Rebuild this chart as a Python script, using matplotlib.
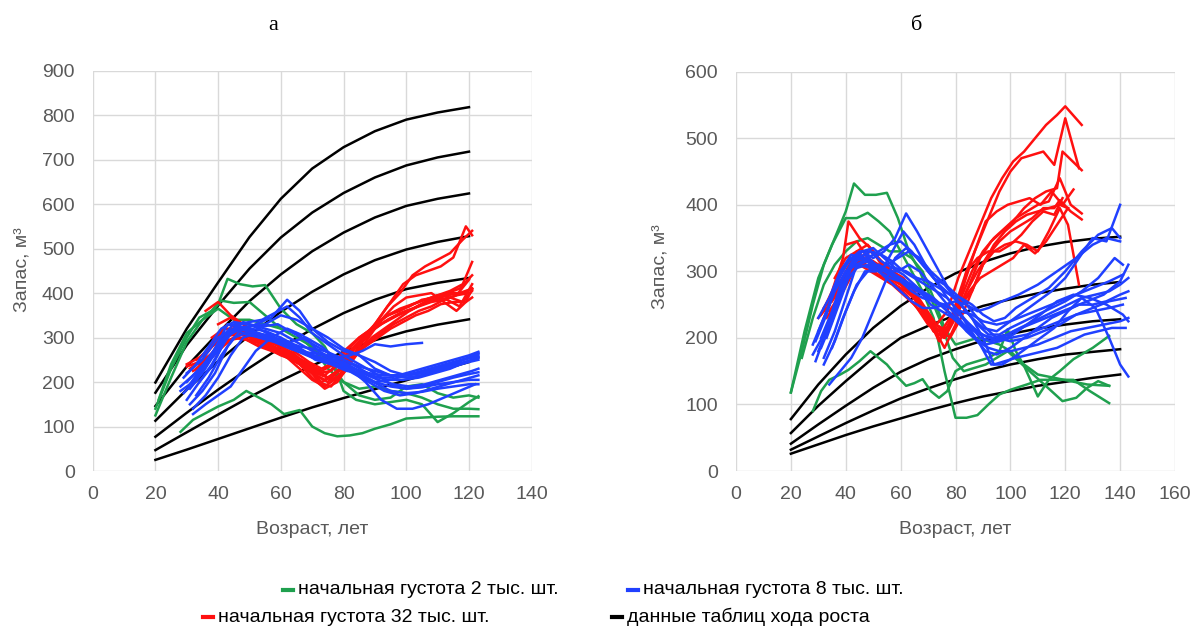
import numpy as np
import matplotlib
matplotlib.use("Agg")
import matplotlib.pyplot as plt
from matplotlib.lines import Line2D

plt.rcParams['font.family'] = ['Liberation Sans', 'DejaVu Sans']

# ---------------- Panel a data ----------------
A_TABLE_AGES = [20, 30, 40, 50, 60, 70, 80, 90, 100, 110, 120]
A_TABLE_VOLS = [
    [199, 320, 424, 526, 612, 680, 728, 764, 790, 806, 818],
    [176, 283, 372, 455, 525, 581, 625, 660, 687, 705, 718],
    [146, 235, 310, 382, 442, 494, 536, 570, 596, 612, 624],
    [113, 183, 247, 305, 358, 403, 442, 474, 498, 515, 528],
    [77, 131, 183, 232, 278, 319, 355, 385, 409, 423, 434],
    [47, 87, 127, 166, 203, 237, 268, 294, 314, 329, 341],
    [25, 48, 72, 96, 120, 143, 164, 184, 204, 225, 245],
]

A_GREEN_AGES = [
    [20, 25, 30, 35, 40, 43, 47, 51, 55, 60, 65, 70, 74, 77, 80, 84, 90, 95, 100, 105, 110, 115, 120, 123],
    [20, 25, 30, 34, 38, 41, 45, 50, 55, 60, 65, 70, 75, 80, 85, 90, 95, 100, 105, 110, 115, 120, 123],
    [28, 32, 36, 40, 45, 49, 53, 57, 61, 66, 70, 74, 78, 82, 86, 90, 95, 100, 105, 110, 115, 120, 123],
    [21, 25, 30, 35, 40, 45, 50, 55, 60, 65, 70, 75, 80, 85, 90, 95, 100, 105, 110, 115, 120, 123],
]
A_GREEN_VOLS = [
    [125, 210, 290, 340, 375, 432, 420, 415, 418, 365, 330, 310, 280, 240, 180, 160, 150, 155, 160, 150, 110, 130, 155, 168],
    [140, 230, 300, 345, 360, 383, 378, 380, 350, 320, 300, 280, 230, 200, 185, 190, 180, 175, 165, 150, 140, 140, 139],
    [88, 115, 130, 145, 160, 180, 165, 150, 128, 137, 100, 85, 78, 80, 85, 95, 105, 118, 120, 122, 123, 123, 123],
    [160, 240, 310, 340, 365, 340, 340, 330, 320, 310, 275, 250, 200, 170, 160, 165, 190, 195, 175, 165, 170, 165],
]

A_BLUE_AGES = [
    [29, 33, 37, 41, 45, 50, 55, 60, 65, 70, 75, 80, 85, 90, 95, 100, 105, 110, 115, 120, 123],
    [30, 34, 38, 42, 46, 50, 55, 60, 65, 70, 75, 80, 85, 90, 95, 100, 105, 110, 115, 120, 123],
    [31, 35, 39, 43, 47, 52, 57, 62, 66, 70, 75, 80, 85, 90, 95, 100, 105, 110, 115, 120, 123],
    [28, 32, 36, 40, 44, 48, 53, 58, 63, 68, 73, 78, 83, 88, 93, 98, 103, 108, 113, 118, 123],
    [32, 36, 40, 44, 48, 52, 57, 62, 67, 72, 77, 82, 87, 92, 97, 102, 107, 112, 117, 122],
    [30, 34, 38, 42, 46, 50, 54, 58, 62, 66, 70, 74, 78, 82, 86, 90, 95, 100, 105],
    [31, 35, 39, 43, 47, 51, 56, 61, 66, 71, 76, 81, 86, 91, 96, 101, 106, 111, 116, 121, 123],
    [29, 33, 37, 41, 45, 49, 54, 59, 64, 69, 74, 79, 84, 89, 94, 99, 104, 109, 114, 119, 123],
    [33, 37, 41, 45, 49, 53, 58, 63, 68, 73, 78, 83, 88, 93, 98, 103, 108, 113, 118, 123],
    [30, 35, 40, 45, 50, 55, 60, 65, 70, 75, 80, 85, 90, 95, 100, 105, 110, 115, 120, 123],
    [32, 36, 40, 44, 48, 52, 56, 60, 65, 70, 75, 80, 85, 90, 95, 100, 105, 110, 115, 120, 123],
    [28, 32, 36, 40, 45, 50, 55, 60, 65, 70, 75, 80, 85, 90, 95, 100, 105, 110, 115, 120, 123],
    [34, 38, 42, 46, 50, 54, 58, 62, 66, 70, 75, 80, 85, 90, 95, 100, 105, 110, 115, 120, 123],
    [31, 35, 39, 43, 47, 51, 55, 60, 65, 70, 75, 80, 85, 90, 95, 100, 105, 110, 115, 120, 123],
]
A_BLUE_VOLS = [
    [175, 205, 250, 300, 330, 330, 320, 310, 290, 270, 255, 240, 215, 200, 205, 215, 225, 235, 245, 255, 265],
    [160, 200, 235, 290, 325, 320, 315, 300, 280, 260, 250, 245, 225, 210, 210, 220, 230, 240, 250, 260, 268],
    [150, 180, 220, 280, 315, 330, 345, 385, 360, 320, 290, 270, 260, 230, 215, 210, 215, 225, 235, 245, 250],
    [190, 215, 240, 270, 310, 335, 320, 300, 290, 300, 280, 250, 230, 220, 215, 215, 220, 230, 240, 250, 258],
    [128, 150, 170, 190, 230, 270, 300, 320, 305, 270, 250, 230, 200, 160, 140, 140, 150, 165, 180, 195],
    [200, 230, 260, 300, 315, 305, 300, 295, 290, 280, 275, 270, 255, 260, 270, 285, 280, 285, 288],
    [185, 220, 265, 310, 320, 310, 300, 290, 275, 250, 240, 225, 220, 205, 195, 190, 195, 205, 215, 225, 230],
    [210, 240, 280, 320, 335, 330, 325, 330, 310, 290, 270, 255, 235, 215, 205, 205, 210, 220, 230, 245, 255],
    [170, 210, 260, 300, 310, 300, 290, 275, 265, 255, 240, 220, 200, 180, 170, 175, 185, 195, 205, 215],
    [220, 250, 300, 320, 325, 330, 350, 340, 320, 300, 275, 260, 245, 225, 215, 220, 230, 240, 255, 262],
    [140, 170, 210, 260, 300, 310, 305, 290, 270, 255, 245, 235, 220, 200, 190, 185, 190, 200, 210, 218, 222],
    [180, 200, 245, 285, 320, 315, 300, 285, 270, 265, 260, 250, 235, 225, 215, 215, 220, 228, 238, 248, 255],
    [200, 240, 290, 330, 335, 340, 355, 370, 345, 310, 285, 260, 240, 220, 195, 185, 188, 195, 200, 205, 205],
    [195, 235, 275, 330, 325, 315, 305, 290, 275, 260, 245, 232, 215, 198, 180, 175, 178, 185, 190, 195, 195],
]

A_RED_AGES = [
    [30, 34, 38, 42, 46, 50, 54, 58, 62, 66, 70, 74, 78, 82, 86, 90, 94, 98, 102, 106, 110, 114, 118, 121],
    [31, 35, 39, 43, 47, 51, 55, 59, 63, 67, 71, 75, 79, 83, 87, 91, 95, 99, 103, 107, 111, 115, 119, 121],
    [33, 37, 41, 45, 49, 53, 57, 61, 65, 69, 73, 77, 81, 85, 89, 93, 97, 101, 105, 109, 113, 117, 121],
    [36, 40, 44, 48, 52, 56, 60, 64, 68, 72, 76, 80, 84, 88, 92, 96, 100, 104, 108, 112, 116, 120],
    [34, 38, 42, 46, 50, 54, 58, 62, 66, 70, 74, 78, 82, 86, 90, 94, 98, 102, 106, 110, 114, 118, 121],
    [32, 36, 40, 44, 48, 52, 56, 60, 64, 68, 72, 76, 80, 84, 88, 92, 96, 100, 104, 108, 112, 116, 120],
    [35, 39, 43, 47, 51, 55, 59, 63, 67, 71, 75, 79, 83, 87, 91, 95, 99, 103, 107, 111, 115, 119, 121],
    [38, 42, 46, 50, 54, 58, 62, 66, 70, 74, 78, 82, 86, 90, 94, 98, 102, 106, 110, 114, 118, 121],
    [40, 44, 48, 52, 56, 60, 64, 68, 72, 76, 80, 84, 88, 92, 96, 100, 104, 108, 112, 116, 119, 121],
    [33, 37, 41, 45, 49, 53, 57, 61, 65, 69, 73, 77, 81, 85, 89, 93, 97, 101, 105, 109, 113, 117, 121],
    [45, 49, 53, 57, 61, 65, 69, 73, 77, 81, 85, 89, 93, 97, 101, 105, 109, 113, 117, 121],
    [30, 34, 38, 42, 46, 50, 54, 58, 62, 66, 70, 74, 78, 82, 86, 90, 94, 98, 102, 106, 110, 114, 118, 121],
]
A_RED_VOLS = [
    [235, 245, 262, 300, 310, 300, 285, 270, 255, 230, 205, 190, 210, 250, 290, 330, 370, 400, 440, 460, 475, 490, 520, 540],
    [230, 250, 300, 330, 320, 305, 290, 275, 255, 240, 215, 200, 230, 270, 300, 340, 380, 420, 440, 450, 460, 480, 550, 530],
    [250, 270, 310, 305, 295, 280, 270, 260, 245, 225, 200, 215, 240, 270, 300, 320, 340, 360, 375, 385, 395, 400, 410],
    [360, 380, 350, 330, 310, 295, 280, 265, 240, 200, 190, 225, 260, 290, 310, 330, 345, 360, 370, 385, 395, 430],
    [240, 265, 290, 300, 295, 285, 270, 255, 240, 210, 185, 200, 240, 290, 320, 340, 355, 365, 380, 395, 405, 420, 470],
    [225, 240, 270, 295, 300, 285, 275, 260, 250, 235, 220, 225, 250, 280, 310, 330, 345, 360, 370, 380, 385, 395, 400],
    [260, 285, 310, 315, 300, 290, 275, 260, 240, 220, 210, 230, 260, 280, 300, 320, 335, 350, 360, 375, 380, 380, 390],
    [300, 320, 320, 310, 300, 285, 270, 250, 230, 215, 240, 270, 300, 330, 350, 365, 375, 385, 395, 400, 400, 410],
    [330, 345, 330, 310, 290, 280, 260, 245, 225, 205, 220, 260, 300, 340, 370, 390, 395, 400, 380, 360, 380, 410],
    [230, 255, 285, 300, 295, 290, 280, 270, 255, 240, 225, 240, 270, 300, 320, 345, 360, 370, 385, 390, 385, 370, 420],
    [320, 315, 305, 295, 285, 265, 245, 230, 245, 275, 300, 320, 335, 350, 360, 375, 385, 400, 410, 440],
    [240, 255, 280, 320, 315, 305, 290, 275, 260, 240, 220, 205, 225, 265, 295, 325, 350, 360, 375, 385, 395, 390, 380, 405],
]

# ---------------- Panel b data ----------------
B_TABLE_AGES = [20, 30, 40, 50, 60, 70, 80, 90, 100, 110, 120, 130, 140]
B_TABLE_VOLS = [
    [78, 130, 175, 215, 248, 275, 297, 314, 327, 337, 344, 349, 352],
    [57, 98, 135, 170, 200, 218, 234, 248, 258, 267, 274, 280, 284],
    [41, 70, 98, 125, 149, 168, 183, 196, 206, 214, 220, 225, 228],
    [32, 52, 72, 91, 109, 124, 138, 150, 160, 168, 175, 179, 183],
    [26, 40, 54, 67, 79, 91, 102, 112, 120, 128, 134, 140, 145],
]

B_GREEN_AGES = [
    [20, 24, 28, 32, 36, 40, 43, 47, 51, 55, 59, 63, 67, 71, 75, 79, 83, 87, 91, 95, 99, 103, 107, 111, 115, 119, 124, 128, 132, 136],
    [20, 25, 30, 35, 40, 44, 48, 52, 56, 60, 64, 68, 72, 76, 80, 84, 88, 92, 96, 100, 106, 111, 117, 123, 129, 136],
    [28, 31, 34, 38, 41, 45, 49, 52, 55, 58, 62, 65, 68, 71, 74, 77, 80, 84, 88, 92, 96, 99, 102, 105, 110, 114, 118, 123, 130, 136],
    [24, 28, 32, 36, 40, 44, 48, 52, 56, 60, 64, 68, 72, 76, 80, 84, 88, 92, 96, 100, 105, 110, 116, 122, 128, 136],
]
B_GREEN_VOLS = [
    [118, 180, 250, 310, 350, 390, 432, 415, 415, 418, 380, 330, 300, 260, 220, 170, 150, 155, 160, 170, 180, 165, 150, 135, 120, 105, 110, 125, 135, 128],
    [118, 210, 290, 340, 380, 380, 388, 375, 360, 330, 300, 270, 230, 150, 80, 80, 84, 100, 115, 122, 130, 137, 137, 137, 120, 102],
    [90, 120, 137, 145, 152, 165, 180, 170, 160, 145, 128, 132, 138, 120, 110, 120, 150, 160, 165, 170, 180, 213, 180, 158, 112, 137, 150, 168, 185, 203],
    [170, 230, 280, 310, 330, 345, 350, 340, 330, 330, 320, 300, 260, 215, 190, 195, 200, 195, 190, 180, 160, 145, 140, 135, 130, 128],
]

B_BLUE_AGES = [
    [29, 33, 37, 41, 45, 49, 53, 57, 61, 65, 69, 73, 77, 81, 85, 89, 93, 97, 101, 106, 111, 116, 121, 126, 131, 136, 140, 143],
    [30, 34, 38, 42, 46, 50, 54, 58, 62, 66, 70, 74, 78, 82, 86, 90, 95, 100, 105, 110, 115, 120, 125, 130, 135, 140],
    [31, 35, 39, 43, 47, 51, 55, 59, 63, 67, 71, 75, 79, 83, 87, 91, 95, 100, 105, 110, 115, 120, 125, 130, 135, 140, 143],
    [28, 32, 36, 40, 44, 48, 52, 56, 60, 64, 68, 72, 76, 80, 84, 88, 92, 96, 100, 105, 110, 115, 120, 126, 132, 138, 141],
    [34, 38, 42, 46, 50, 54, 58, 62, 66, 70, 74, 78, 82, 86, 90, 94, 98, 102, 107, 112, 117, 122, 127, 132, 137, 142],
    [30, 34, 38, 42, 46, 50, 54, 58, 62, 66, 70, 74, 78, 82, 86, 90, 94, 98, 102, 108, 114, 120, 126, 132, 137, 140],
    [32, 36, 40, 44, 48, 52, 56, 60, 64, 68, 72, 76, 80, 84, 88, 92, 96, 100, 106, 112, 118, 124, 130, 136, 141],
    [29, 33, 37, 41, 45, 49, 53, 57, 61, 65, 69, 73, 77, 81, 85, 89, 94, 99, 104, 110, 116, 122, 128, 134, 140, 143],
    [31, 35, 39, 43, 47, 51, 55, 59, 63, 67, 71, 75, 79, 83, 87, 91, 96, 101, 106, 111, 117, 123, 129, 135, 141, 143],
    [33, 37, 41, 45, 49, 53, 57, 61, 65, 69, 73, 77, 81, 85, 89, 93, 97, 101, 106, 111, 116, 121, 126, 131, 136, 140, 143],
    [30, 34, 38, 42, 46, 50, 54, 58, 62, 66, 70, 74, 78, 82, 86, 90, 95, 100, 106, 112, 118, 124, 130, 136, 141],
    [35, 39, 43, 47, 51, 55, 59, 63, 67, 71, 75, 79, 83, 87, 91, 95, 100, 106, 112, 118, 124, 130, 136, 142],
    [28, 32, 36, 40, 44, 48, 52, 56, 60, 64, 68, 72, 76, 80, 84, 88, 92, 97, 103, 110, 117, 124, 130, 135, 140],
    [32, 36, 40, 44, 48, 52, 56, 60, 64, 68, 72, 76, 80, 84, 88, 92, 96, 100, 105, 110, 116, 122, 128, 134, 140, 143],
]
B_BLUE_VOLS = [
    [165, 210, 260, 300, 320, 330, 325, 315, 300, 290, 280, 270, 260, 240, 220, 200, 195, 200, 210, 220, 230, 240, 250, 260, 265, 270, 280, 290],
    [180, 220, 270, 310, 330, 320, 330, 350, 387, 360, 330, 300, 270, 250, 230, 215, 210, 225, 240, 255, 270, 290, 320, 350, 345, 400],
    [200, 240, 290, 320, 325, 310, 300, 290, 280, 270, 250, 240, 230, 215, 200, 180, 175, 185, 200, 215, 230, 240, 250, 250, 255, 265, 270],
    [190, 230, 270, 300, 310, 320, 330, 340, 345, 330, 310, 290, 280, 260, 240, 220, 205, 205, 215, 225, 235, 245, 255, 270, 290, 320, 310],
    [130, 150, 170, 200, 240, 280, 320, 335, 320, 300, 280, 265, 250, 230, 200, 160, 165, 170, 175, 180, 185, 195, 205, 210, 215, 215],
    [210, 250, 295, 320, 330, 335, 320, 305, 300, 290, 285, 275, 265, 260, 250, 235, 225, 230, 245, 260, 275, 300, 330, 355, 365, 350],
    [170, 210, 260, 310, 315, 300, 290, 285, 270, 260, 255, 250, 240, 225, 210, 200, 195, 200, 205, 215, 225, 235, 240, 245, 250],
    [195, 235, 285, 315, 330, 330, 315, 305, 295, 280, 265, 255, 240, 225, 215, 205, 200, 205, 215, 225, 235, 245, 255, 265, 285, 310],
    [185, 225, 275, 315, 320, 310, 300, 300, 310, 300, 280, 260, 240, 220, 200, 190, 195, 205, 220, 235, 255, 265, 260, 250, 235, 225],
    [200, 245, 290, 310, 305, 300, 330, 360, 340, 310, 285, 260, 240, 215, 190, 160, 160, 170, 185, 200, 215, 240, 260, 245, 200, 160, 142],
    [230, 260, 300, 325, 320, 310, 300, 290, 280, 270, 260, 250, 245, 240, 235, 225, 220, 225, 235, 245, 255, 265, 275, 285, 295],
    [185, 230, 270, 300, 300, 310, 320, 330, 320, 300, 285, 270, 255, 235, 215, 200, 195, 200, 210, 220, 235, 245, 255, 260],
    [175, 205, 245, 285, 305, 310, 300, 285, 270, 255, 245, 245, 250, 255, 250, 240, 245, 255, 265, 280, 300, 320, 340, 350, 345],
    [160, 195, 240, 280, 300, 310, 300, 290, 280, 270, 260, 245, 230, 210, 195, 185, 180, 180, 185, 190, 200, 210, 215, 220, 225, 230],
]

B_RED_AGES = [
    [31, 35, 39, 41, 45, 49, 53, 57, 61, 65, 69, 73, 77, 81, 85, 89, 93, 97, 101, 105, 109, 113, 117, 120, 126],
    [32, 36, 40, 44, 48, 52, 56, 60, 64, 68, 72, 76, 80, 84, 88, 92, 96, 100, 104, 108, 112, 116, 120, 125],
    [33, 37, 41, 45, 49, 53, 57, 61, 65, 69, 73, 77, 81, 85, 89, 93, 97, 101, 105, 109, 113, 117, 119, 126],
    [34, 38, 42, 46, 50, 54, 58, 62, 66, 70, 74, 78, 82, 86, 90, 94, 98, 102, 106, 110, 114, 118, 122, 126],
    [36, 40, 44, 48, 52, 56, 60, 64, 68, 72, 76, 80, 84, 88, 92, 96, 100, 104, 108, 112, 116, 118, 122, 126],
    [30, 34, 38, 42, 46, 50, 54, 58, 62, 66, 70, 74, 78, 82, 86, 90, 94, 98, 102, 106, 110, 114, 118, 121, 125],
    [38, 42, 46, 50, 54, 58, 62, 66, 70, 74, 78, 82, 86, 90, 94, 98, 102, 106, 110, 114, 118, 121],
    [40, 44, 48, 52, 56, 60, 64, 68, 72, 76, 80, 84, 88, 92, 96, 100, 104, 108, 112, 116, 119],
    [33, 37, 41, 45, 49, 53, 57, 61, 65, 69, 73, 77, 81, 85, 89, 93, 97, 101, 105, 109, 113, 117, 121],
    [35, 39, 43, 47, 51, 55, 59, 63, 67, 71, 75, 79, 83, 87, 91, 95, 99, 103, 107, 111, 115, 119, 123],
]
B_RED_VOLS = [
    [235, 270, 320, 375, 350, 335, 310, 290, 280, 260, 240, 220, 240, 290, 330, 370, 410, 440, 465, 480, 500, 520, 535, 548, 520],
    [245, 270, 300, 330, 340, 320, 300, 285, 265, 240, 210, 200, 250, 300, 340, 380, 420, 450, 470, 475, 480, 460, 530, 455],
    [230, 255, 285, 320, 330, 315, 300, 290, 270, 245, 220, 210, 240, 280, 320, 345, 360, 375, 395, 410, 420, 425, 480, 452],
    [240, 265, 300, 320, 315, 300, 285, 275, 260, 230, 195, 220, 260, 300, 330, 350, 365, 380, 390, 400, 405, 440, 400, 387],
    [290, 320, 330, 315, 300, 290, 280, 265, 240, 210, 200, 230, 270, 300, 325, 345, 360, 370, 380, 395, 395, 407, 390, 378],
    [230, 250, 280, 310, 310, 305, 295, 280, 265, 245, 220, 205, 230, 250, 270, 310, 330, 340, 345, 340, 330, 360, 395, 370, 280],
    [300, 320, 315, 300, 290, 280, 270, 255, 235, 215, 200, 230, 270, 310, 340, 360, 375, 385, 390, 395, 400, 395],
    [340, 345, 320, 310, 300, 285, 270, 240, 215, 185, 220, 300, 320, 330, 330, 340, 355, 375, 390, 385, 410],
    [250, 270, 295, 310, 300, 290, 280, 265, 250, 230, 210, 215, 240, 270, 290, 300, 310, 320, 340, 327, 345, 370, 395],
    [255, 280, 305, 310, 305, 295, 285, 270, 250, 225, 205, 230, 280, 330, 375, 390, 400, 405, 410, 400, 420, 400, 423],
]

LEGEND_LABELS = ["начальная густота 2 тыс. шт.", "начальная густота 8 тыс. шт.",
                 "начальная густота 32 тыс. шт.", "данные таблиц хода роста"]

GREEN = "#1fa04e"
BLUE = "#2040ff"
RED = "#ff1010"
BLACK = "#000000"
TXT = "#595959"
GRID = "#d9d9d9"
LW = 1.8

W, H = 1196, 632
fig = plt.figure(figsize=(W / 100, H / 100), dpi=100)


def fx(px):
    return px / W


def fy(py):
    return 1 - py / H


def panel(rect, xmax, ymax, ystep, tab_ages, tab_vols, g_a, g_v, b_a, b_v, r_a, r_v):
    ax = fig.add_axes(rect)
    for vols in tab_vols:
        ax.plot(tab_ages, vols, color=BLACK, lw=LW, zorder=3)
    for a, v in zip(g_a, g_v):
        ax.plot(a, v, color=GREEN, lw=LW, zorder=4)
    for a, v in zip(r_a, r_v):
        ax.plot(a, v, color=RED, lw=LW, zorder=5)
    for a, v in zip(b_a, b_v):
        ax.plot(a, v, color=BLUE, lw=LW, zorder=6)
    ax.set_xlim(0, xmax)
    ax.set_ylim(0, ymax)
    ax.set_xticks(np.arange(0, xmax + 1, 20))
    ax.set_yticks(np.arange(0, ymax + 1, ystep))
    ax.grid(True, color=GRID, lw=1.0, zorder=0)
    ax.set_axisbelow(True)
    for s in ax.spines.values():
        s.set_visible(False)
    ax.tick_params(length=0, labelsize=14, colors=TXT)
    ax.tick_params(axis='y', pad=13)
    ax.tick_params(axis='x', pad=11)
    return ax


axa = panel([fx(92.7), fy(471), fx(531.7) - fx(92.7), fy(70.7) - fy(471)], 140, 900, 100,
            A_TABLE_AGES, A_TABLE_VOLS, A_GREEN_AGES, A_GREEN_VOLS,
            A_BLUE_AGES, A_BLUE_VOLS, A_RED_AGES, A_RED_VOLS)
axb = panel([fx(736), fy(471), fx(1175) - fx(736), fy(71.7) - fy(471)], 160, 600, 100,
            B_TABLE_AGES, B_TABLE_VOLS, B_GREEN_AGES, B_GREEN_VOLS,
            B_BLUE_AGES, B_BLUE_VOLS, B_RED_AGES, B_RED_VOLS)

# Titles
fig.text(fx(273), fy(26), "а", family="Liberation Serif", fontsize=16, ha="center", va="center")
fig.text(fx(917), fy(26), "б", family="Liberation Serif", fontsize=16, ha="center", va="center")

# Axis titles
for cx in (312, 955):
    fig.text(fx(cx), fy(529), "Возраст, лет", fontsize=14, color=TXT, ha="center", va="center")
fig.text(fx(22), fy(270), "Запас, м³", fontsize=14, color=TXT, ha="center", va="center", rotation=90)
fig.text(fx(660), fy(267), "Запас, м³", fontsize=14, color=TXT, ha="center", va="center", rotation=90)

# Legend (two rows, manually placed)
items = [
    (283, 590, GREEN, LEGEND_LABELS[0]),
    (628, 590, BLUE, LEGEND_LABELS[1]),
    (203, 617, RED, LEGEND_LABELS[2]),
    (612, 617, BLACK, LEGEND_LABELS[3]),
]
for x0, y0, col, lab in items:
    fig.add_artist(Line2D([fx(x0), fx(x0 + 10)], [fy(y0), fy(y0)], color=col, lw=3,
                          transform=fig.transFigure))
    fig.text(fx(x0 + 15), fy(y0), lab, fontsize=14, color=BLACK, ha="left", va="center")

fig.savefig("out.png", dpi=100)
